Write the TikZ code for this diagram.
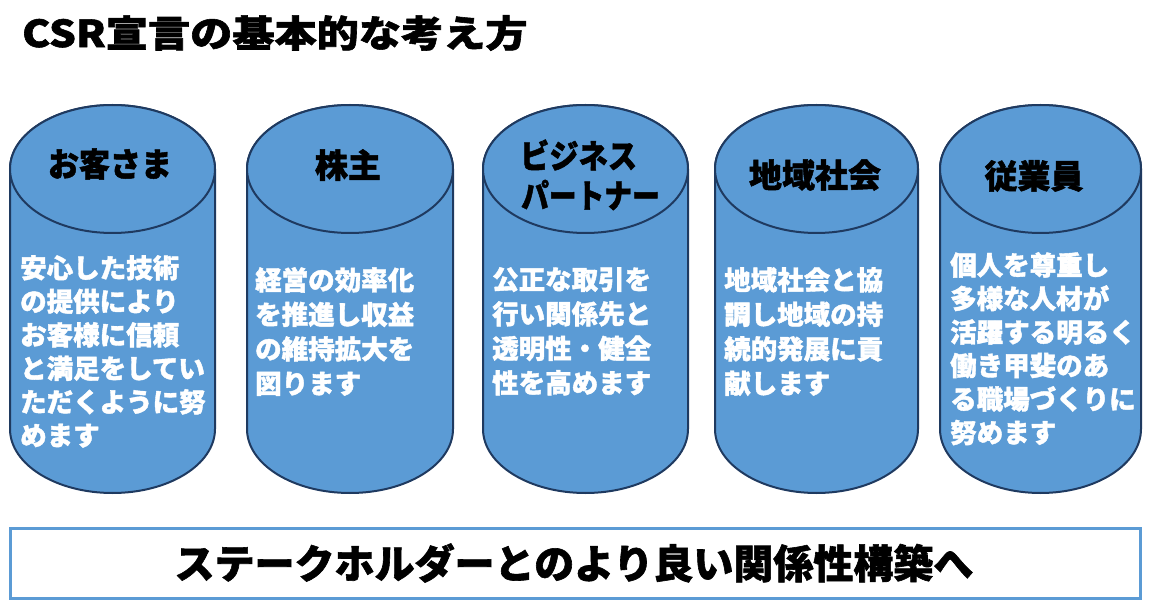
\documentclass[tikz,border=0pt]{standalone}
\usepackage{fontspec}
\newfontfamily\jp[BoldFeatures={FakeBold=1.5}]{Noto Sans CJK JP}
\definecolor{cylfill}{HTML}{5B9BD5}
\definecolor{cyldraw}{HTML}{1F3A60}
\definecolor{boxdraw}{HTML}{5B9BD5}
\begin{document}
\begin{tikzpicture}[x=1pt,y=1pt,
  cyl/.style={fill=cylfill,draw=cyldraw,line width=2pt},
  head/.style={font=\jp\bfseries\fontsize{33}{38}\selectfont,text=black,inner sep=0pt},
  body/.style={font=\jp\bfseries\fontsize{26.5}{34.5}\selectfont,text=white,align=left,inner sep=0pt,anchor=north west},
  bodyb/.style={body,font=\jp\bfseries\fontsize{26.5}{33.5}\selectfont}]
\useasboundingbox (0,0) rectangle (1151,614);
% cylinders
\foreach \L/\R in {10/215,247/453,483/688,715/918,940/1141}{
  \pgfmathsetmacro{\cx}{(\L+\R)/2}
  \pgfmathsetmacro{\rx}{(\R-\L)/2}
  \path[cyl] (\L,445) -- (\L,185) arc[start angle=180,end angle=360,x radius=\rx,y radius=64]
     -- (\R,445) arc[start angle=0,end angle=180,x radius=\rx,y radius=64] -- cycle;
  \draw[cyl] (\cx,445) ellipse[x radius=\rx,y radius=64];
}
% title
\node[font=\jp\bfseries\fontsize{37}{40}\selectfont,anchor=west,inner sep=0pt] (title) at (22,581) {\scalebox{1.14}[1]{CSR宣言の基本的な考え方}};
% headers
\node[head] (h1) at (110,450) {\scalebox{0.94}[1]{お客さま}};
\node[head] (h2) at (348,449) {株主};
\node[head,anchor=west] (h3a) at (520,459) {\scalebox{0.885}[1]{ビジネス}};
\node[head,anchor=west] (h3b) at (521,419) {\scalebox{0.84}[1]{パートナー}};
\node[head] (h4) at (815,439) {地域社会};
\node[head] (h5) at (1034,438) {従業員};
% bodies
\node[bodyb] (b1) at (20,359) {安心した技術\\の提供により\\お客様に信頼\\と満足をしてい\\ただくように努\\めます};
\node[body] (b2) at (255,347) {経営の効率化\\を推進し収益\\の維持拡大を\\図ります};
\node[body] (b3) at (492,347) {公正な取引を\\行い関係先と\\透明性・健全\\性を高めます};
\node[body] (b4) at (724,347) {地域社会と協\\調し地域の持\\続的発展に貢\\献します};
\node[bodyb] (b5) at (950,362) {個人を尊重し\\多様な人材が\\活躍する明るく\\働き甲斐のあ\\る職場づくりに\\努めます};
% bottom box
\draw[draw=boxdraw,line width=3pt] (10,16) rectangle (1140,86);
\node[font=\jp\bfseries\fontsize{40}{44}\selectfont,inner sep=0pt] (msg) at (574,51) {ステークホルダーとのより良い関係性構築へ};
\end{tikzpicture}
\end{document}
